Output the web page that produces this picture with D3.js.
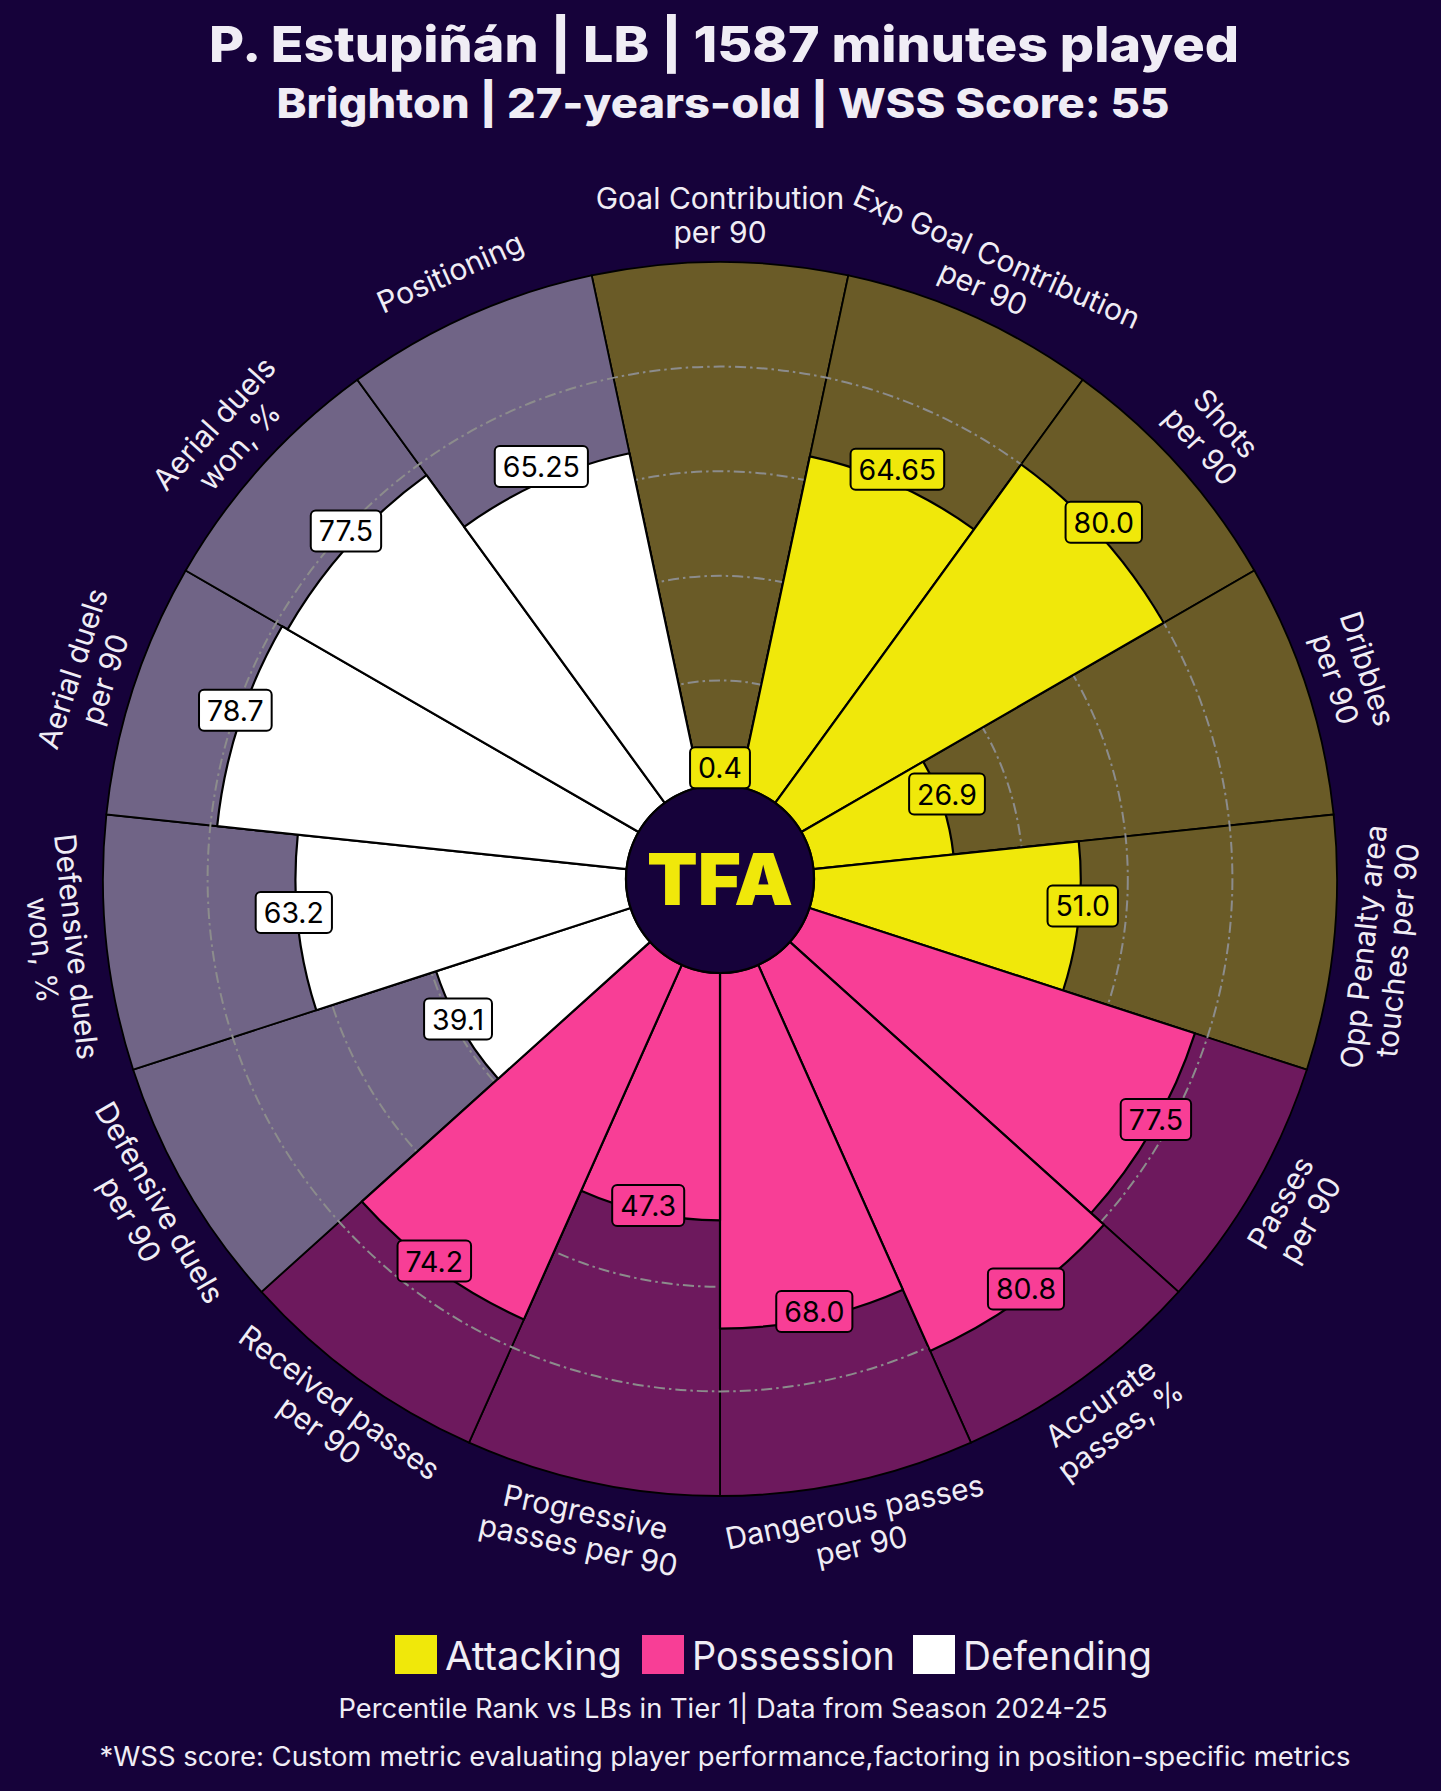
<!DOCTYPE html>
<html><head><meta charset="utf-8">
<script src="https://cdn.jsdelivr.net/npm/d3@7"></script>
<style>
html,body{margin:0;padding:0;background:#16023a;}
svg{display:block;}
text{font-family:Inter,"Open Sans",sans-serif;}
</style></head><body>
<svg id="chart" width="1441" height="1791"></svg>
<script>
// ---------- data ----------
const params = [
  "Goal Contribution\nper 90",
  "Exp Goal Contribution\nper 90",
  "Shots\nper 90",
  "Dribbles\nper 90",
  "Opp Penalty area\ntouches per 90",
  "Passes\nper 90",
  "Accurate\npasses, %",
  "Dangerous passes\nper 90",
  "Progressive\npasses per 90",
  "Received passes\nper 90",
  "Defensive duels\nper 90",
  "Defensive duels\nwon, %",
  "Aerial duels\nper 90",
  "Aerial duels\nwon, %",
  "Positioning"
];
const values = [0.4, 64.65, 80.0, 26.9, 51.0, 77.5, 80.8, 68.0, 47.3, 74.2, 39.1, 63.2, 78.7, 77.5, 65.25];
const valueLabels = ["0.4","64.65","80.0","26.9","51.0","77.5","80.8","68.0","47.3","74.2","39.1","63.2","78.7","77.5","65.25"];
const paramGroups = ["Attacking","Attacking","Attacking","Attacking","Attacking",
  "Possession","Possession","Possession","Possession","Possession",
  "Defending","Defending","Defending","Defending","Defending"];
const groupNames = ["Attacking","Possession","Defending"];
const groupColors = ["#f0e80a","#f83e96","#ffffff"];
const gridTicks = [20, 40, 60, 80];
const titleLine = "P. Estupiñán | LB | 1587 minutes played";
const subtitleLine = "Brighton | 27-years-old | WSS Score: 55";
const footerLines = ["Percentile Rank vs LBs in Tier 1| Data from Season 2024-25",
  "*WSS score: Custom metric evaluating player performance,factoring in position-specific metrics"];
const logoText = "TFA";

// ---------- setup ----------
const BG = "#16023a";
const TXT = "#f0edf5";
const svg = d3.select("#chart");
const cx = 720, cy = 879;
const hole = 94, outerR = 617;

const data = params.map((p, i) => ({key: "k" + i, label: p, v: values[i], vl: valueLabels[i], g: paramGroups[i]}));
const color = d3.scaleOrdinal().domain(groupNames).range(groupColors);
const step = 2 * Math.PI / params.length;
const ang = d3.scaleBand().domain(data.map(d => d.key)).range([-step / 2, 2 * Math.PI - step / 2]).padding(0);
const r = d3.scaleLinear().domain([0, 100]).range([hole, outerR]);

const root = svg.append("g").attr("transform", `translate(${cx},${cy})`);

// background slices
const bgArc = d3.arc().innerRadius(r(0)).outerRadius(r(100))
  .startAngle(d => ang(d.key)).endAngle(d => ang(d.key) + ang.bandwidth());
root.append("g").selectAll("path").data(data).join("path")
  .attr("d", bgArc).attr("fill", BG).attr("stroke", "none");
root.append("g").selectAll("path").data(data).join("path")
  .attr("d", bgArc)
  .attr("fill", d => color(d.g)).attr("fill-opacity", 0.39)
  .attr("stroke", "#000").attr("stroke-width", 1.8);

// grid
root.append("g").selectAll("circle").data(gridTicks).join("circle")
  .attr("r", d => r(d)).attr("fill", "none")
  .attr("stroke", "#8c8c8c").attr("stroke-width", 2)
  .attr("stroke-dasharray", "11,4,2.5,4");

// value slices
const valArc = d3.arc().innerRadius(r(0)).outerRadius(d => r(d.v))
  .startAngle(d => ang(d.key)).endAngle(d => ang(d.key) + ang.bandwidth());
root.append("g").selectAll("path").data(data).join("path")
  .attr("d", valArc)
  .attr("fill", d => color(d.g))
  .attr("stroke", "#000").attr("stroke-width", 2.2).attr("stroke-linejoin", "round");

// center circle + logo
root.append("circle").attr("r", hole).attr("fill", BG).attr("stroke", "#000").attr("stroke-width", 2.2);
root.append("text").text(logoText)
  .attr("x", 0).attr("y", 0).attr("dy", "0.36em")
  .attr("text-anchor", "middle")
  .attr("font-size", 72).attr("font-weight", 900)
  .attr("textLength", 146).attr("lengthAdjust", "spacingAndGlyphs")
  .attr("fill", "#f0e80a");

// param labels
const LR = 664, LH = 34;
const lab = root.append("g").selectAll("g").data(data).join("g")
  .attr("transform", d => {
    const a = ang(d.key) + ang.bandwidth() / 2;
    const deg = a * 180 / Math.PI;
    let rot = deg;
    if (deg > 90 && deg < 270) rot = deg - 180;
    else if (deg >= 270) rot = deg - 360;
    return `translate(${LR * Math.sin(a)},${-LR * Math.cos(a)}) rotate(${rot})`;
  });
lab.each(function(d) {
  const lines = d.label.split("\n");
  const t = d3.select(this).append("text")
    .attr("text-anchor", "middle").attr("fill", TXT)
    .attr("font-size", 30).attr("font-weight", 400);
  lines.forEach((ln, i) => {
    t.append("tspan").attr("x", 0)
      .attr("y", (i - (lines.length - 1) / 2) * LH)
      .attr("dy", "0.36em").text(ln);
  });
});

// value labels
const vg = root.append("g").selectAll("g").data(data).join("g")
  .attr("transform", d => {
    const a = ang(d.key) + ang.bandwidth() / 2;
    const rr = r(d.v) + 4;
    return `translate(${rr * Math.sin(a)},${-rr * Math.cos(a) - 11})`;
  });
vg.each(function(d) {
  const g = d3.select(this);
  const t = g.append("text").text(d.vl)
    .attr("text-anchor", "middle").attr("dy", "0.36em")
    .attr("font-size", 28.5).attr("fill", "#000");
  const bb = t.node().getBBox();
  g.insert("rect", "text")
    .attr("x", bb.x - 8).attr("y", bb.y - 3)
    .attr("width", bb.width + 16).attr("height", bb.height + 6)
    .attr("rx", 5).attr("ry", 5)
    .attr("fill", color(d.g)).attr("stroke", "#000").attr("stroke-width", 2);
});

// titles
svg.append("text").text(titleLine)
  .attr("x", 724).attr("y", 62).attr("text-anchor", "middle")
  .attr("font-size", 50).attr("font-weight", 800).attr("fill", TXT)
  .attr("textLength", 1030).attr("lengthAdjust", "spacingAndGlyphs");
svg.append("text").text(subtitleLine)
  .attr("x", 723).attr("y", 118).attr("text-anchor", "middle")
  .attr("font-size", 41).attr("font-weight", 800).attr("fill", TXT)
  .attr("textLength", 893).attr("lengthAdjust", "spacingAndGlyphs");

// legend
const leg = svg.append("g");
const legendX = [395, 642, 913];
const legendW = [177, 203, 189];
groupNames.forEach((gname, i) => {
  leg.append("rect").attr("x", legendX[i]).attr("y", 1635).attr("width", 42).attr("height", 39)
    .attr("fill", groupColors[i]);
  leg.append("text").text(gname).attr("x", legendX[i] + 50).attr("y", 1670)
    .attr("font-size", 39).attr("fill", TXT)
    .attr("textLength", legendW[i]).attr("lengthAdjust", "spacingAndGlyphs");
});

// footers
svg.append("text").text(footerLines[0]).attr("x", 723).attr("y", 1718)
  .attr("text-anchor", "middle").attr("font-size", 26.5).attr("fill", TXT)
  .attr("textLength", 769).attr("lengthAdjust", "spacingAndGlyphs");
svg.append("text").text(footerLines[1]).attr("x", 725).attr("y", 1766)
  .attr("text-anchor", "middle").attr("font-size", 26.5).attr("fill", TXT)
  .attr("textLength", 1251).attr("lengthAdjust", "spacingAndGlyphs");
</script>
</body></html>
